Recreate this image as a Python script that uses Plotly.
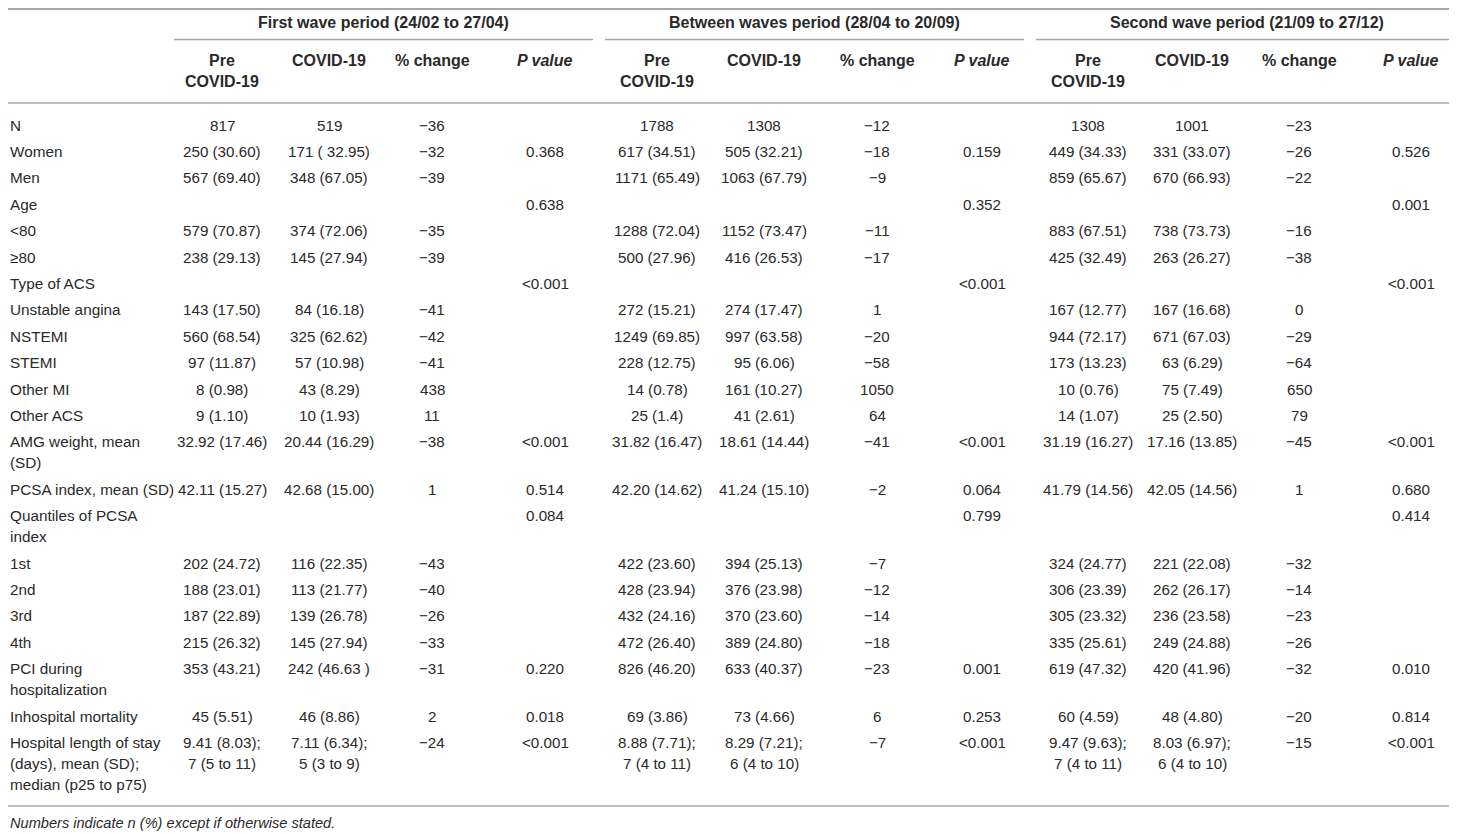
import plotly.graph_objects as go

M = "\u2212"

row_labels = [
    "N", "Women", "Men", "Age", "&lt;80", "\u226580", "Type of ACS",
    "Unstable angina", "NSTEMI", "STEMI", "Other MI", "Other ACS",
    "AMG weight, mean\n(SD)", "PCSA index, mean (SD)", "Quantiles of PCSA\nindex",
    "1st", "2nd", "3rd", "4th", "PCI during\nhospitalization",
    "Inhospital mortality", "Hospital length of stay\n(days), mean (SD);\nmedian (p25 to p75)",
]

period_titles = [
    "First wave period (24/02 to 27/04)",
    "Between waves period (28/04 to 20/09)",
    "Second wave period (21/09 to 27/12)",
]
sub_headers = ["Pre\nCOVID-19", "COVID-19", "% change", "P value"]

first_pre = ["817", "250 (30.60)", "567 (69.40)", "", "579 (70.87)", "238 (29.13)", "",
             "143 (17.50)", "560 (68.54)", "97 (11.87)", "8 (0.98)", "9 (1.10)",
             "32.92 (17.46)", "42.11 (15.27)", "", "202 (24.72)", "188 (23.01)",
             "187 (22.89)", "215 (26.32)", "353 (43.21)", "45 (5.51)", "9.41 (8.03);\n7 (5 to 11)"]
first_covid = ["519", "171 ( 32.95)", "348 (67.05)", "", "374 (72.06)", "145 (27.94)", "",
               "84 (16.18)", "325 (62.62)", "57 (10.98)", "43 (8.29)", "10 (1.93)",
               "20.44 (16.29)", "42.68 (15.00)", "", "116 (22.35)", "113 (21.77)",
               "139 (26.78)", "145 (27.94)", "242 (46.63 )", "46 (8.86)", "7.11 (6.34);\n5 (3 to 9)"]
first_change = [M + "36", M + "32", M + "39", "", M + "35", M + "39", "",
                M + "41", M + "42", M + "41", "438", "11",
                M + "38", "1", "", M + "43", M + "40", M + "26", M + "33", M + "31", "2", M + "24"]
first_p = ["", "0.368", "", "0.638", "", "", "&lt;0.001", "", "", "", "", "",
           "&lt;0.001", "0.514", "0.084", "", "", "", "", "0.220", "0.018", "&lt;0.001"]

between_pre = ["1788", "617 (34.51)", "1171 (65.49)", "", "1288 (72.04)", "500 (27.96)", "",
               "272 (15.21)", "1249 (69.85)", "228 (12.75)", "14 (0.78)", "25 (1.4)",
               "31.82 (16.47)", "42.20 (14.62)", "", "422 (23.60)", "428 (23.94)",
               "432 (24.16)", "472 (26.40)", "826 (46.20)", "69 (3.86)", "8.88 (7.71);\n7 (4 to 11)"]
between_covid = ["1308", "505 (32.21)", "1063 (67.79)", "", "1152 (73.47)", "416 (26.53)", "",
                 "274 (17.47)", "997 (63.58)", "95 (6.06)", "161 (10.27)", "41 (2.61)",
                 "18.61 (14.44)", "41.24 (15.10)", "", "394 (25.13)", "376 (23.98)",
                 "370 (23.60)", "389 (24.80)", "633 (40.37)", "73 (4.66)", "8.29 (7.21);\n6 (4 to 10)"]
between_change = [M + "12", M + "18", M + "9", "", M + "11", M + "17", "",
                  "1", M + "20", M + "58", "1050", "64",
                  M + "41", M + "2", "", M + "7", M + "12", M + "14", M + "18", M + "23", "6", M + "7"]
between_p = ["", "0.159", "", "0.352", "", "", "&lt;0.001", "", "", "", "", "",
             "&lt;0.001", "0.064", "0.799", "", "", "", "", "0.001", "0.253", "&lt;0.001"]

second_pre = ["1308", "449 (34.33)", "859 (65.67)", "", "883 (67.51)", "425 (32.49)", "",
              "167 (12.77)", "944 (72.17)", "173 (13.23)", "10 (0.76)", "14 (1.07)",
              "31.19 (16.27)", "41.79 (14.56)", "", "324 (24.77)", "306 (23.39)",
              "305 (23.32)", "335 (25.61)", "619 (47.32)", "60 (4.59)", "9.47 (9.63);\n7 (4 to 11)"]
second_covid = ["1001", "331 (33.07)", "670 (66.93)", "", "738 (73.73)", "263 (26.27)", "",
                "167 (16.68)", "671 (67.03)", "63 (6.29)", "75 (7.49)", "25 (2.50)",
                "17.16 (13.85)", "42.05 (14.56)", "", "221 (22.08)", "262 (26.17)",
                "236 (23.58)", "249 (24.88)", "420 (41.96)", "48 (4.80)", "8.03 (6.97);\n6 (4 to 10)"]
second_change = [M + "23", M + "26", M + "22", "", M + "16", M + "38", "",
                 "0", M + "29", M + "64", "650", "79",
                 M + "45", "1", "", M + "32", M + "14", M + "23", M + "26", M + "32", M + "20", M + "15"]
second_p = ["", "0.526", "", "0.001", "", "", "&lt;0.001", "", "", "", "", "",
            "&lt;0.001", "0.680", "0.414", "", "", "", "", "0.010", "0.814", "&lt;0.001"]

footnote = "Numbers indicate n (%) except if otherwise stated."

# ---------------- layout / styling ----------------
W, H = 1457, 834
PAGE_PAD = 8  # browser body margin; axis ranges are shifted so 1 unit = 1 page pixel
TXT = "#2a2a2a"
LINE = "#a8a8a8"
FONT = "Liberation Sans, Arial, sans-serif"
LABEL_SIZE = 15.3
NUM_SIZE = 15.2
HEAD_SIZE = 16
LINE_H = 21.0
ROW_STEP = 26.4
FIRST_ROW_Y = 125.0
LABEL_X = 8

col_centers = [222, 329, 432, 545, 657, 764, 877, 982, 1088, 1192, 1299, 1411]
group_spans = [(174, 593), (605, 1024), (1036, 1457)]

columns = [first_pre, first_covid, first_change, first_p,
           between_pre, between_covid, between_change, between_p,
           second_pre, second_covid, second_change, second_p]

fig = go.Figure()
fig.add_trace(go.Scatter(x=[PAGE_PAD, W], y=[PAGE_PAD, H], mode="markers",
                         marker=dict(opacity=0), hoverinfo="skip", showlegend=False))

ann = []


def add_text(x, y, text, anchor="center", size=NUM_SIZE, bold=False, italic=False):
    lines = text.split("\n")
    for k, ln in enumerate(lines):
        t = ln
        if italic:
            t = "<i>" + t + "</i>"
        if bold:
            t = "<b>" + t + "</b>"
        ann.append(dict(x=x, y=y + k * LINE_H, xref="x", yref="y", text=t,
                        showarrow=False, xanchor=anchor, yanchor="middle",
                        font=dict(family=FONT, size=size, color=TXT)))


# group titles
for (a, b), title in zip(group_spans, period_titles):
    add_text((a + b) / 2, 22, title, size=HEAD_SIZE, bold=True)

# sub headers
for i, cx in enumerate(col_centers):
    h = sub_headers[i % 4]
    add_text(cx, 60, h, size=HEAD_SIZE, bold=True, italic=(h == "P value"))

# body rows
y = FIRST_ROW_Y
for r, lab in enumerate(row_labels):
    cells = [c[r] for c in columns]
    n_lines = max([lab.count("\n") + 1] + [c.count("\n") + 1 for c in cells])
    add_text(LABEL_X, y, lab, anchor="left", size=LABEL_SIZE)
    for cx, cell in zip(col_centers, cells):
        if cell:
            add_text(cx, y, cell, size=NUM_SIZE)
    y += ROW_STEP + LINE_H * (n_lines - 1)

add_text(LABEL_X, 823, footnote, anchor="left", size=14.6, italic=True)

shapes = [
    dict(type="line", xref="x", yref="y", x0=0, x1=W + PAGE_PAD, y0=9, y1=9,
         line=dict(color=LINE, width=2.2)),
    dict(type="line", xref="x", yref="y", x0=0, x1=W + PAGE_PAD, y0=103, y1=103,
         line=dict(color=LINE, width=1.5)),
    dict(type="line", xref="x", yref="y", x0=0, x1=W + PAGE_PAD, y0=806, y1=806,
         line=dict(color=LINE, width=1.5)),
]
for a, b in group_spans:
    shapes.append(dict(type="line", xref="x", yref="y", x0=a, x1=b, y0=39.5, y1=39.5,
                       line=dict(color=LINE, width=1.5)))

fig.update_layout(
    width=W, height=H,
    margin=dict(l=0, r=0, t=0, b=0),
    paper_bgcolor="white", plot_bgcolor="white",
    xaxis=dict(range=[PAGE_PAD, W + PAGE_PAD], visible=False, fixedrange=True),
    yaxis=dict(range=[H + PAGE_PAD, PAGE_PAD], visible=False, fixedrange=True),
    annotations=ann, shapes=shapes, showlegend=False,
)

fig.write_html("out.html")
